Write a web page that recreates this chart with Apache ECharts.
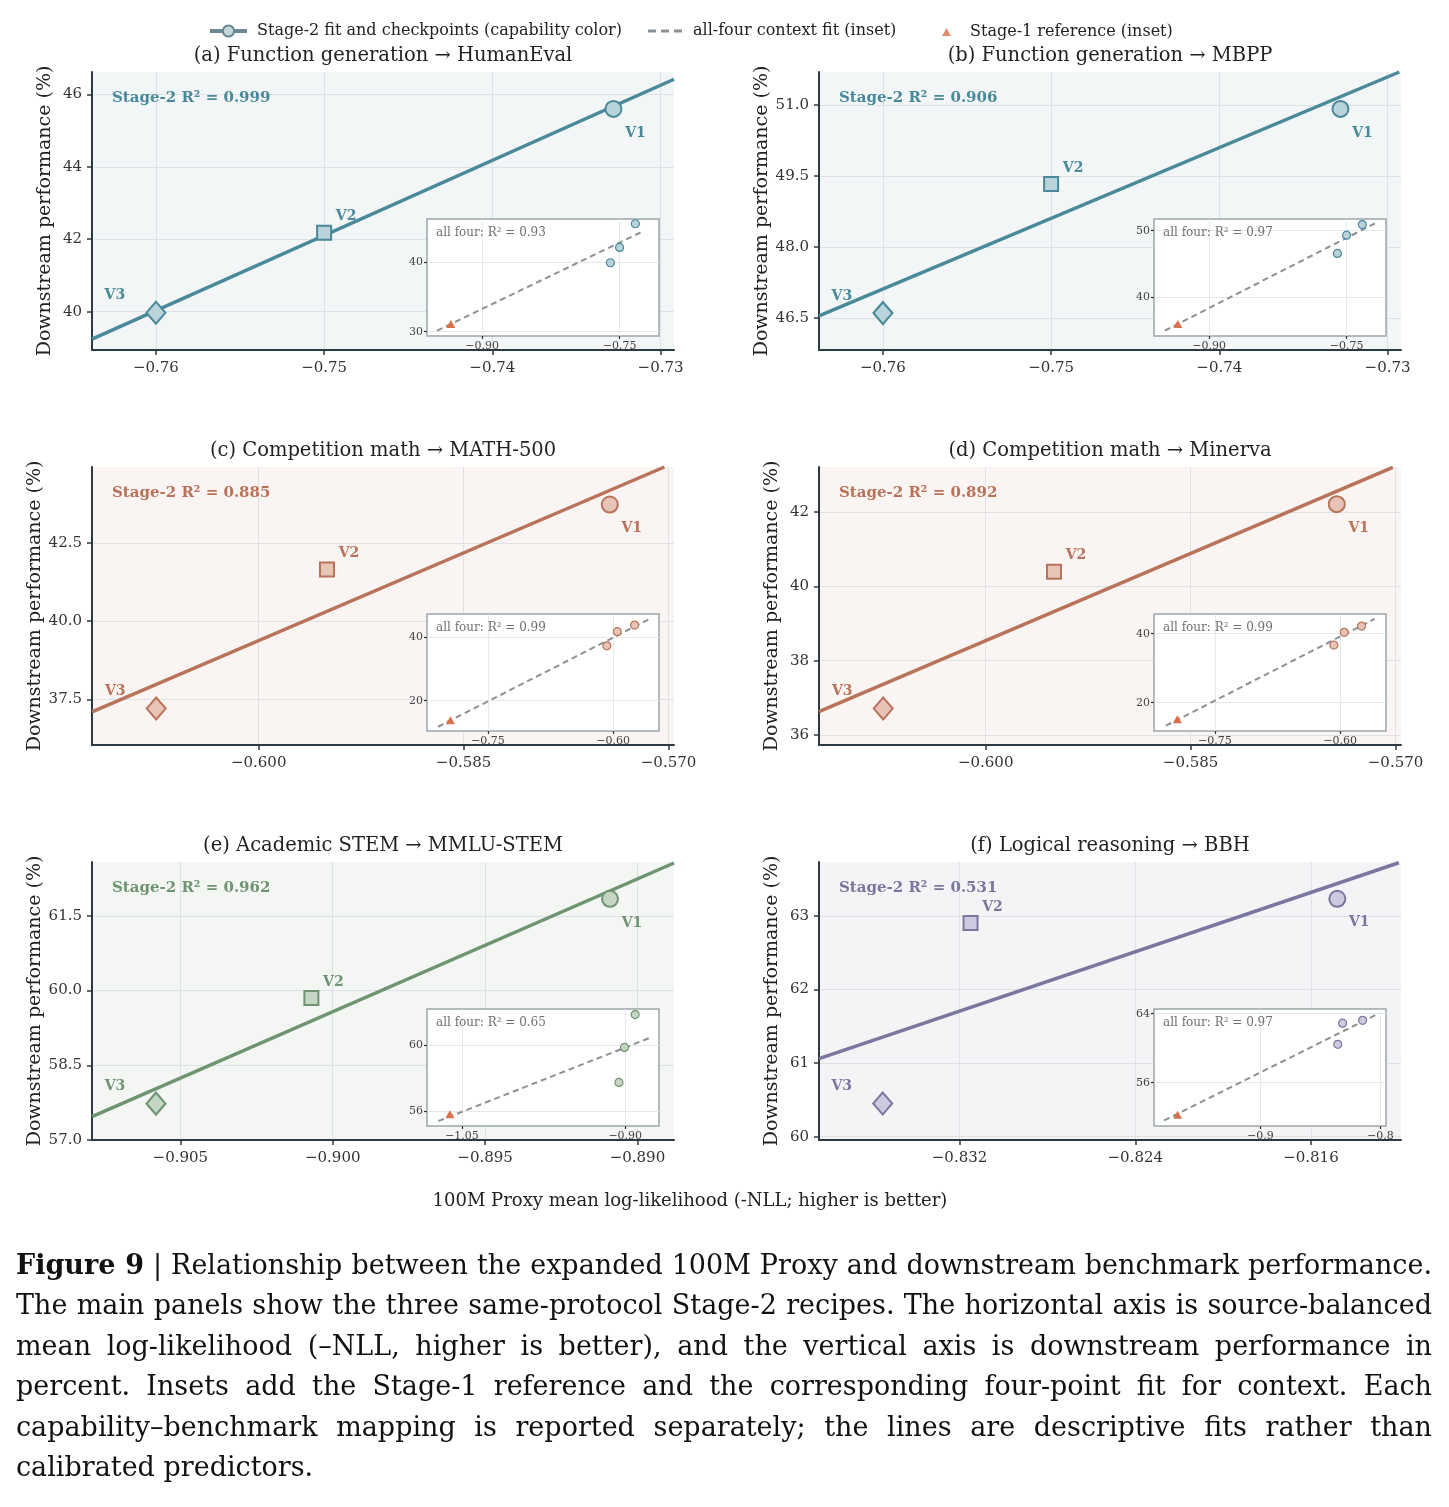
<!DOCTYPE html>
<html><head><meta charset="utf-8">
<script src="https://cdn.jsdelivr.net/npm/echarts@6.0.0/dist/echarts.min.js"></script>
<style>
html,body{margin:0;padding:0;background:#fff;}
#chart{position:absolute;left:0;top:0;width:1449px;height:1507px;}
#caption{position:absolute;left:16px;top:1245px;width:1416px;font-family:'DejaVu Serif',serif;font-size:27px;line-height:40.4px;color:#111;}
.cap-line{white-space:nowrap;}
</style></head><body>
<div id="chart"></div>
<div id="caption">
<div class="cap-line"><span><b>Figure 9</b> | Relationship between the expanded 100M Proxy and downstream benchmark performance.</span></div>
<div class="cap-line"><span>The main panels show the three same-protocol Stage-2 recipes. The horizontal axis is source-balanced</span></div>
<div class="cap-line"><span>mean log-likelihood (–NLL, higher is better), and the vertical axis is downstream performance in</span></div>
<div class="cap-line"><span>percent. Insets add the Stage-1 reference and the corresponding four-point fit for context. Each</span></div>
<div class="cap-line"><span>capability–benchmark mapping is reported separately; the lines are descriptive fits rather than</span></div>
<div class="cap-line"><span>calibrated predictors.</span></div>
</div>
<script>
// ---------------- data ----------------
const versions = ['V1', 'V2', 'V3'];
const panelTitles = [
  '(a) Function generation \u2192 HumanEval',
  '(b) Function generation \u2192 MBPP',
  '(c) Competition math \u2192 MATH-500',
  '(d) Competition math \u2192 Minerva',
  '(e) Academic STEM \u2192 MMLU-STEM',
  '(f) Logical reasoning \u2192 BBH'
];
const panelCapability = [0, 0, 1, 1, 2, 3];
const stage2X = [
  [-0.7328, -0.7500, -0.7600],
  [-0.7328, -0.7500, -0.7600],
  [-0.5743, -0.5950, -0.6075],
  [-0.5743, -0.5950, -0.6075],
  [-0.8909, -0.9007, -0.9058],
  [-0.8148, -0.8315, -0.8355]
];
const stage2Y = [
  [45.60, 42.18, 39.97],
  [50.92, 49.33, 46.60],
  [43.73, 41.65, 37.21],
  [42.21, 40.39, 36.71],
  [61.84, 59.85, 57.73],
  [63.23, 62.90, 60.45]
];
const stage2R2 = ['0.999', '0.906', '0.885', '0.892', '0.962', '0.531'];
const fitX = [[-0.7638, -0.7292], [-0.7638, -0.7293], [-0.6122, -0.5703], [-0.6122, -0.5702], [-0.9079, -0.8888], [-0.8384, -0.8120]];
const fitY = [[39.24, 46.42], [46.54, 51.70], [37.10, 44.93], [36.63, 43.20], [57.47, 62.56], [61.06, 63.72]];
const mainXMin = [-0.7638, -0.7638, -0.6122, -0.6122, -0.9079, -0.8384];
const mainXMax = [-0.7292, -0.7292, -0.5696, -0.5696, -0.8888, -0.8119];
const mainYMin = [38.94, 45.82, 36.04, 35.73, 57.0, 59.955];
const mainYMax = [46.62, 51.70, 44.93, 43.21, 62.58, 63.73];
const mainXTicks = [
  [-0.76, -0.75, -0.74, -0.73],
  [-0.76, -0.75, -0.74, -0.73],
  [-0.600, -0.585, -0.570],
  [-0.600, -0.585, -0.570],
  [-0.905, -0.900, -0.895, -0.890],
  [-0.832, -0.824, -0.816]
];
const mainXDec = [2, 2, 3, 3, 3, 3];
const mainYTicks = [
  [40, 42, 44, 46],
  [46.5, 48.0, 49.5, 51.0],
  [37.5, 40.0, 42.5],
  [36, 38, 40, 42],
  [57.0, 58.5, 60.0, 61.5],
  [60, 61, 62, 63]
];
const mainYDec = [0, 1, 1, 0, 1, 0];

const stage1X = [-0.934, -0.934, -0.795, -0.795, -1.061, -0.969];
const stage1Y = [31.1, 36.06, 13.9, 15.2, 55.8, 52.28];
const insetFitX = [[-0.9491, -0.7262], [-0.9483, -0.7182], [-0.8098, -0.5561], [-0.8088, -0.5587], [-1.0715, -0.8783], [-0.9803, -0.8031]];
const insetFitY = [[30.15, 44.4], [35.05, 51.15], [11.83, 45.65], [13.33, 44.26], [55.39, 60.41], [51.62, 63.9]];
const insetR2 = ['0.93', '0.97', '0.99', '0.99', '0.65', '0.97'];
const insetXMin = [-0.960, -0.960, -0.823, -0.823, -1.082, -0.9887];
const insetXMax = [-0.707, -0.707, -0.545, -0.545, -0.869, -0.7953];
const insetYMin = [29.38, 34.26, 10.5, 11.8, 55.09, 50.98];
const insetYMax = [46.29, 51.75, 47.2, 45.7, 62.18, 64.54];
const insetXTicks = [[-0.90, -0.75], [-0.90, -0.75], [-0.75, -0.60], [-0.75, -0.60], [-1.05, -0.90], [-0.9, -0.8]];
const insetXDec = [2, 2, 2, 2, 2, 1];
const insetYTicks = [[30, 40], [40, 50], [20, 40], [20, 40], [56, 60], [56, 64]];

const legendNames = ['Stage-2 fit and checkpoints (capability color)', 'all-four context fit (inset)', 'Stage-1 reference (inset)'];
const xAxisTitle = '100M Proxy mean log-likelihood (-NLL; higher is better)';
const yAxisTitle = 'Downstream performance (%)';

// ---------------- style / layout ----------------
const FONT = "'DejaVu Serif', serif";
const capLine = ['#4a899a', '#b8735a', '#6f9472', '#7a779f'];
const capFill = ['#b9d3da', '#e8c4b7', '#c6d6c4', '#cccadf'];
const capBg = ['#f2f6f7', '#faf4f2', '#f3f6f2', '#f4f4f7'];
const colLeft = [92, 819], plotW = 582, rowTop = [72, 467, 862], plotH = 278;
const insetLeft = [427, 1154], insetTop = [219, 614, 1009], insetW = 232, insetH = 117;
const shapes = ['circle', 'rect', 'diamond'];
const shapeSizes = [16, 14, [19, 22]];
const labelOffsets = [[22, 24], [22, -16], [-41, -17]];
const axisDark = '#2c3a44';
const stage1Color = '#d9704e';
const dashColor = '#8a9197';

function fmt(dec) {
  return function (v) {
    const s = Math.abs(v).toFixed(dec);
    return (v < 0 ? '\u2212' : '') + s;
  };
}

const grids = [], xAxes = [], yAxes = [], series = [], graphics = [];

for (let i = 0; i < 6; i++) {
  const c = panelCapability[i];
  const gl = colLeft[i % 2], gt = rowTop[Math.floor(i / 2)];
  grids.push({ left: gl, top: gt, width: plotW, height: plotH, show: true, backgroundColor: capBg[c], borderWidth: 0, containLabel: false, z: 0 });
  xAxes.push({
    type: 'value', gridIndex: i, min: mainXMin[i], max: mainXMax[i], z: 1,
    axisLine: { show: true, onZero: false, lineStyle: { color: axisDark, width: 2 } },
    axisTick: { show: true, customValues: mainXTicks[i], length: 5, lineStyle: { color: axisDark, width: 1.5 } },
    axisLabel: { show: true, customValues: mainXTicks[i], formatter: fmt(mainXDec[i]), margin: 11, fontFamily: FONT, fontSize: 15, color: '#333' },
    splitLine: { show: true, lineStyle: { color: '#dde2e6', width: 1 } }
  });
  yAxes.push({
    type: 'value', gridIndex: i, min: mainYMin[i], max: mainYMax[i], z: 1,
    name: yAxisTitle, nameLocation: 'middle', nameGap: 37,
    nameTextStyle: { fontFamily: FONT, fontSize: 19, color: '#222' },
    axisLine: { show: true, onZero: false, lineStyle: { color: axisDark, width: 2 } },
    axisTick: { show: true, customValues: mainYTicks[i], length: 5, lineStyle: { color: axisDark, width: 1.5 } },
    axisLabel: { show: true, customValues: mainYTicks[i], formatter: fmt(mainYDec[i]), margin: 10, fontFamily: FONT, fontSize: 15, color: '#333' },
    splitLine: { show: true, lineStyle: { color: '#dde2e6', width: 1 } }
  });
  series.push({
    type: 'line', xAxisIndex: i, yAxisIndex: i, silent: true, z: 2, clip: true,
    data: [[fitX[i][0], fitY[i][0]], [fitX[i][1], fitY[i][1]]],
    symbol: 'none', lineStyle: { color: capLine[c], width: 3.5 }
  });
  series.push({
    type: 'scatter', xAxisIndex: i, yAxisIndex: i, silent: true, z: 3,
    data: versions.map((v, k) => ({
      value: [stage2X[i][k], stage2Y[i][k]], symbol: shapes[k], symbolSize: shapeSizes[k],
      label: { offset: labelOffsets[k] }
    })),
    itemStyle: { color: capFill[c], borderColor: capLine[c], borderWidth: 2, opacity: 1 },
    label: {
      show: true, position: 'inside', formatter: (p) => versions[p.dataIndex],
      fontFamily: FONT, fontWeight: 'bold', fontSize: 14, color: capLine[c]
    }
  });
  graphics.push({ type: 'text', x: gl + plotW / 2, y: gt - 16, z: 10,
    style: { text: panelTitles[i], font: '19.5px ' + FONT, fill: '#222', align: 'center', verticalAlign: 'middle' } });
  graphics.push({ type: 'text', x: gl + 20, y: gt + 26, z: 10,
    style: { text: 'Stage-2 R\u00b2 = ' + stage2R2[i], font: 'bold 15px ' + FONT, fill: capLine[c], align: 'left', verticalAlign: 'middle' } });
}

for (let i = 0; i < 6; i++) {
  const c = panelCapability[i];
  const il = insetLeft[i % 2], it = insetTop[Math.floor(i / 2)];
  const gi = 6 + i;
  grids.push({ left: il, top: it, width: insetW, height: insetH, show: true, backgroundColor: '#ffffff', borderColor: '#9ca5aa', borderWidth: 1.5, containLabel: false, z: 3 });
  xAxes.push({
    type: 'value', gridIndex: gi, min: insetXMin[i], max: insetXMax[i], z: 4,
    axisLine: { show: false },
    axisTick: { show: true, customValues: insetXTicks[i], length: 3, lineStyle: { color: '#333', width: 1.2 } },
    axisLabel: { show: true, customValues: insetXTicks[i], formatter: fmt(insetXDec[i]), margin: 5, fontFamily: FONT, fontSize: 11, color: '#444' },
    splitLine: { show: true, lineStyle: { color: '#e6e8ea', width: 1 } }
  });
  yAxes.push({
    type: 'value', gridIndex: gi, min: insetYMin[i], max: insetYMax[i], z: 4,
    axisLine: { show: false },
    axisTick: { show: true, customValues: insetYTicks[i], length: 3, lineStyle: { color: '#333', width: 1.2 } },
    axisLabel: { show: true, customValues: insetYTicks[i], formatter: fmt(0), margin: 4, fontFamily: FONT, fontSize: 11, color: '#444' },
    splitLine: { show: true, lineStyle: { color: '#e6e8ea', width: 1 } }
  });
  series.push({
    type: 'line', xAxisIndex: gi, yAxisIndex: gi, silent: true, z: 5,
    data: [[insetFitX[i][0], insetFitY[i][0]], [insetFitX[i][1], insetFitY[i][1]]],
    symbol: 'none', lineStyle: { color: dashColor, width: 2, type: [6, 4] }
  });
  series.push({
    type: 'scatter', xAxisIndex: gi, yAxisIndex: gi, silent: true, z: 6,
    data: versions.map((v, k) => [stage2X[i][k], stage2Y[i][k]]),
    symbol: 'circle', symbolSize: 8,
    itemStyle: { color: capFill[c], borderColor: capLine[c], borderWidth: 1.2, opacity: 1 }
  });
  series.push({
    type: 'scatter', xAxisIndex: gi, yAxisIndex: gi, silent: true, z: 6,
    data: [[stage1X[i], stage1Y[i]]],
    symbol: 'triangle', symbolSize: [9, 8],
    itemStyle: { color: stage1Color, opacity: 1 }
  });
  graphics.push({ type: 'text', x: il + 9, y: it + 14, z: 10,
    style: { text: 'all four: R\u00b2 = ' + insetR2[i], font: '12px ' + FONT, fill: '#707070', align: 'left', verticalAlign: 'middle' } });
}

// legend-only series
series.push({ type: 'line', name: legendNames[0], xAxisIndex: 0, yAxisIndex: 0, data: [],
  symbol: 'circle', symbolSize: 12, itemStyle: { color: '#c6d7dc', borderColor: '#6a8792', borderWidth: 2 },
  lineStyle: { color: '#6a8792', width: 4 } });
series.push({ type: 'line', name: legendNames[1], xAxisIndex: 0, yAxisIndex: 0, data: [],
  symbol: 'none', itemStyle: { color: dashColor }, lineStyle: { color: dashColor, width: 2, type: 'dashed' } });
series.push({ type: 'scatter', name: legendNames[2], xAxisIndex: 0, yAxisIndex: 0, data: [],
  symbol: 'triangle', itemStyle: { color: stage1Color } });

graphics.push({ type: 'text', x: 690, y: 1201, z: 10,
  style: { text: xAxisTitle, font: '18px ' + FONT, fill: '#222', align: 'center', verticalAlign: 'middle' } });

const legendText = { fontFamily: FONT, fontSize: 16, color: '#222', padding: [0, 0, 0, 5] };
const option = {
  animation: false,
  backgroundColor: '#ffffff',
  legend: [
    { left: 208, top: 23, padding: 0, itemWidth: 37, itemHeight: 14, selectedMode: false, textStyle: legendText,
      lineStyle: { width: 4, color: '#6a8792' },
      itemStyle: { color: '#c6d7dc', borderColor: '#6a8792', borderWidth: 2 },
      data: [{ name: legendNames[0] }] },
    { left: 648, top: 23, padding: 0, itemWidth: 36, itemHeight: 3, selectedMode: false, textStyle: legendText,
      data: [{ name: legendNames[1], icon: 'path://M0,0h8v3h-8zM13,0h8v3h-8zM26,0h8v3h-8z', itemStyle: { color: dashColor, borderWidth: 0 } }] },
    { left: 942, top: 24, padding: 0, itemWidth: 9, itemHeight: 8, selectedMode: false,
      textStyle: Object.assign({}, legendText, { padding: [0, 0, 0, 14] }),
      data: [{ name: legendNames[2], icon: 'triangle', itemStyle: { color: stage1Color } }] }
  ],
  grid: grids,
  xAxis: xAxes,
  yAxis: yAxes,
  series: series,
  graphic: graphics
};

const chart = echarts.init(document.getElementById('chart'), null, { renderer: 'canvas' });
chart.setOption(option);

// justify caption lines
(function () {
  const lines = document.querySelectorAll('.cap-line');
  lines.forEach((el, idx) => {
    if (idx === lines.length - 1) return;
    const span = el.firstElementChild;
    const natural = span.getBoundingClientRect().width;
    const spaces = (span.textContent.match(/ /g) || []).length;
    if (spaces > 0) span.style.wordSpacing = ((1416 - natural) / spaces) + 'px';
  });
})();
</script>
</body></html>
